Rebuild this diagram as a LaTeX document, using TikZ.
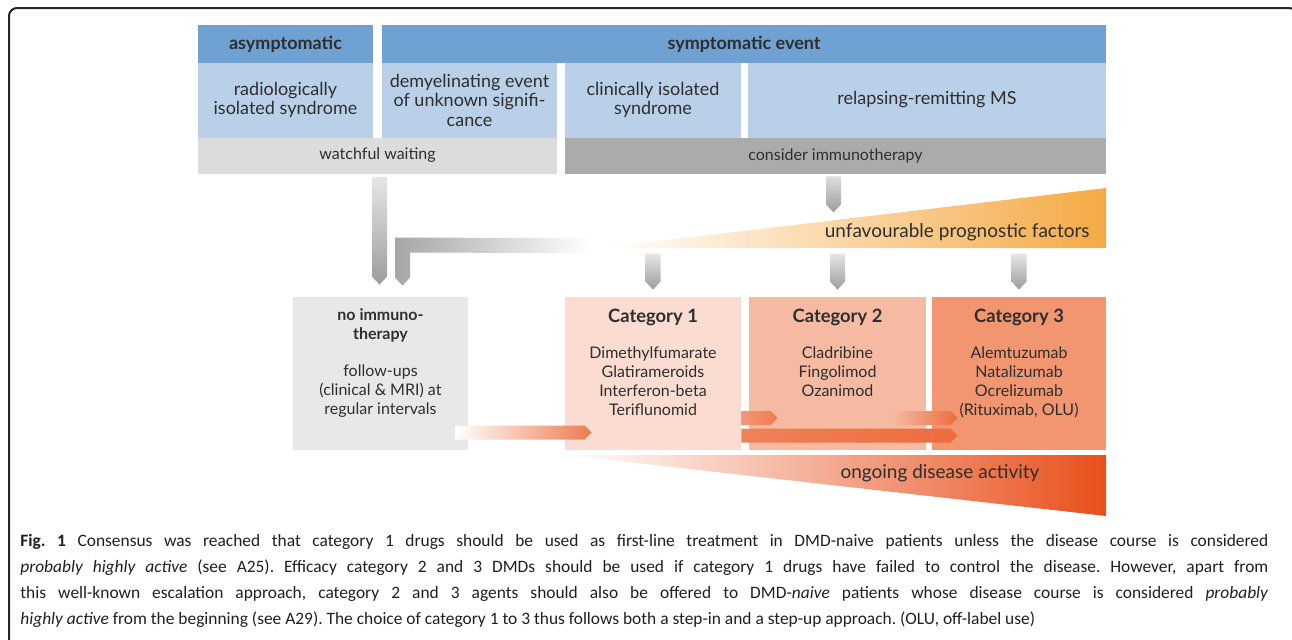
\documentclass[tikz,border=0pt]{standalone}
\usepackage{fontspec}
\setmainfont{Lato}
\newfontfamily\capfont{Carlito}
\usetikzlibrary{calc,positioning}

\definecolor{hdrblue}{HTML}{6FA1D2}
\definecolor{lightblue}{HTML}{B9D0E8}
\definecolor{waitgrey}{HTML}{DCDCDC}
\definecolor{immgrey}{HTML}{ABABAB}
\definecolor{noimmgrey}{HTML}{E8E8E8}
\definecolor{cat1col}{HTML}{FADCD0}
\definecolor{cat2col}{HTML}{F6B9A1}
\definecolor{cat3col}{HTML}{F29672}
\definecolor{arrowgrey}{HTML}{9C9C9C}
\definecolor{progorange}{HTML}{F5AA45}
\definecolor{actred}{HTML}{E8501C}
\definecolor{arroworange}{HTML}{EC6C3C}
\definecolor{txt}{HTML}{2E2E2E}

\tikzset{
  cell/.style={inner sep=0pt, align=center, text=txt, font=\fontsize{9}{9.75}\selectfont},
  head/.style={cell, fill=hdrblue, minimum height=19pt, font=\bfseries\fontsize{9}{10}\selectfont},
  stage/.style={cell, fill=lightblue, minimum height=37.5pt},
  advice/.style={cell, minimum height=18pt, font=\fontsize{8}{9}\selectfont},
  therapy/.style={inner sep=0pt, minimum height=76.5pt},
  cattitle/.style={cell, font=\bfseries\fontsize{9.2}{10}\selectfont},
  offtitle/.style={cell, font=\bfseries\fontsize{8}{9.25}\selectfont},
  druglist/.style={cell, font=\fontsize{8}{9.5}\selectfont},
  trend/.style={inner sep=0pt, text=txt, font=\fontsize{9.5}{10}\selectfont}
}

% block arrow pointing down: \downblock(top)(tip){top colour}{bottom colour}
\def\downblock(#1)(#2)#3#4{\shade[top color=#3, bottom color=#4] ($(#1)+(-7.5,0)$) -- ($(#1)+(7.5,0)$) -- ($(#2)+(7.5,-8)$) -- (#2) -- ($(#2)+(-7.5,-8)$) -- cycle;}
% block arrow pointing right: \rightblock(tail)(tip){left colour}{right colour}
\def\rightblock(#1)(#2)#3#4{\shade[left color=#3, right color=#4] ($(#1)+(0,-7)$) -- ($(#2)+(-7,-7)$) -- (#2) -- ($(#2)+(-7,7)$) -- ($(#1)+(0,7)$) -- cycle;}

\begin{document}
\begin{tikzpicture}[x=0.5pt, y=-0.5pt]
\useasboundingbox (0,0) rectangle (1292,639);
\draw[line width=1pt, rounded corners=4pt, draw=black!85] (9,660) -- (9,8) -- (1297,8) -- (1297,660);

% disease course
\node[head, minimum width=87.5pt] (asym) at (285.5,44) {asymptomatic};
\node[head, minimum width=362pt] (symp) at (744,44) {symptomatic event};
\node[stage, minimum width=87.5pt] (ris) at (285.5,100) {radiologically\\isolated syndrome};
\node[stage, minimum width=87.5pt] (deus) at (469.5,100) {demyelinating event\\of unknown signifi-\\cance};
\node[stage, minimum width=88pt] (cis) at (653,100) {clinically isolated\\syndrome};
\node[stage, minimum width=179pt] (rrms) at (927,100) {relapsing-remitting MS};
\node[advice, fill=waitgrey, minimum width=179.5pt] (wait) at (377.5,155.5) {watchful waiting};
\node[advice, fill=immgrey, minimum width=270.5pt] (immu) at (835.5,156) {consider immunotherapy};

% wedges
\coordinate (prog) at (600,248);
\shade[left color=white, middle color=progorange!28, right color=progorange] (prog) -- (1106,188) -- (1106,248) -- cycle;
\node[trend, anchor=east] (progtxt) at (1090,232) {unfavourable prognostic factors};
\shade[left color=white, right color=actred] (565,455) -- (1106,455) -- (1106,516) -- cycle;
\node[trend] (acttxt) at (940,473) {ongoing disease activity};

% treatment
\node[therapy, fill=noimmgrey, minimum width=87.5pt] (noimm) at (380.5,373.5) {};
\node[therapy, fill=cat1col, minimum width=88pt] (cat1) at (653,373.5) {};
\node[therapy, fill=cat2col, minimum width=88.5pt] (cat2) at (837.5,373.5) {};
\node[therapy, fill=cat3col, minimum width=87pt] (cat3) at (1019,373.5) {};

\node[offtitle, below=6pt of noimm.north] (noimmtitle) {no immuno-\\therapy};
\node[druglist, below=34pt of noimm.north] (noimmtext) {follow-ups\\(clinical \& MRI) at\\regular intervals};
\node[cattitle, below=6pt of cat1.north] (cat1title) {Category 1};
\node[cattitle, below=6pt of cat2.north] (cat2title) {Category 2};
\node[cattitle, below=6pt of cat3.north] (cat3title) {Category 3};
\node[druglist, below=25pt of cat1.north] (cat1drugs) {Dimethylfumarate\\Glatirameroids\\Interferon-beta\\Teriflunomid};
\node[druglist, below=25pt of cat2.north] (cat2drugs) {Cladribine\\Fingolimod\\Ozanimod};
\node[druglist, below=25pt of cat3.north] (cat3drugs) {Alemtuzumab\\Natalizumab\\Ocrelizumab\\(Rituximab, OLU)};

% grey arrows
\coordinate (waittop) at ($(noimm.north |- wait.south)+(-1,3)$);
\coordinate (waittip) at ($(noimm.north)+(-1,-12)$);
\downblock(waittop)(waittip){waitgrey!70}{arrowgrey}
\coordinate (ltip) at ($(noimm.north)+(22,-11)$);
\shade[left color=arrowgrey!90, right color=white] (ltip) -- ($(ltip)+(7.5,-8)$) -- ($(ltip)+(7.5,-33)$)
  -- ($(prog)+(-10,5)$) -- ($(prog)+(-10,-10)$) -- ($(ltip)+(-7.5,-48)$) -- ($(ltip)+(-7.5,-8)$) -- cycle;
\coordinate (immtop) at ($(immu.south)+(-2,2)$);
\coordinate (immtip) at ($(immu.south)+(-2,38)$);
\downblock(immtop)(immtip){immgrey!40}{arrowgrey}
\foreach \k in {1,2,3}{
  \coordinate (in\k) at ($(cat\k.north)+(0,-43)$);
  \coordinate (tip\k) at ($(cat\k.north)+(0,-7)$);
  \downblock(in\k)(tip\k){arrowgrey!25}{arrowgrey}
}

% orange arrows
\coordinate (h1a) at ($(noimm.east)+(-13,59)$);
\coordinate (h1b) at ($(cat1.west)+(27,59)$);
\rightblock(h1a)(h1b){white}{arroworange!90}
\coordinate (h2a) at ($(cat1.east)+(0,44.5)$);
\coordinate (h2b) at ($(cat2.west)+(29,44.5)$);
\rightblock(h2a)(h2b){arroworange!70}{arroworange!90}
\coordinate (h3a) at ($(cat2.east)+(-33,44.5)$);
\coordinate (h3b) at ($(cat3.west)+(26,44.5)$);
\rightblock(h3a)(h3b){cat2col}{arroworange}
\coordinate (h4a) at ($(cat1.east)+(0,62)$);
\coordinate (h4b) at ($(cat3.west)+(26,62)$);
\rightblock(h4a)(h4b){arroworange!85}{arroworange}

% caption
\node[anchor=north west, text width=624pt, align=justify, inner sep=0pt, text=black!88,
  font=\capfont\frenchspacing\fontsize{8.7}{13}\selectfont] (caption) at (20,534)
  {\textbf{Fig. 1} Consensus was reached that category 1 drugs should be used as first-line treatment in DMD-naive patients unless the disease course is considered\linebreak
  \textit{probably highly active} (see A25). Efficacy category 2 and 3 DMDs should be used if category 1 drugs have failed to control the disease. However, apart from\linebreak
  this well-known escalation approach, category 2 and 3 agents should also be offered to DMD-\textit{naive} patients whose disease course is considered \textit{probably}\linebreak
  \textit{highly active} from the beginning (see A29). The choice of category 1 to 3 thus follows both a step-in and a step-up approach. (OLU, off-label use)};
\end{tikzpicture}
\end{document}
